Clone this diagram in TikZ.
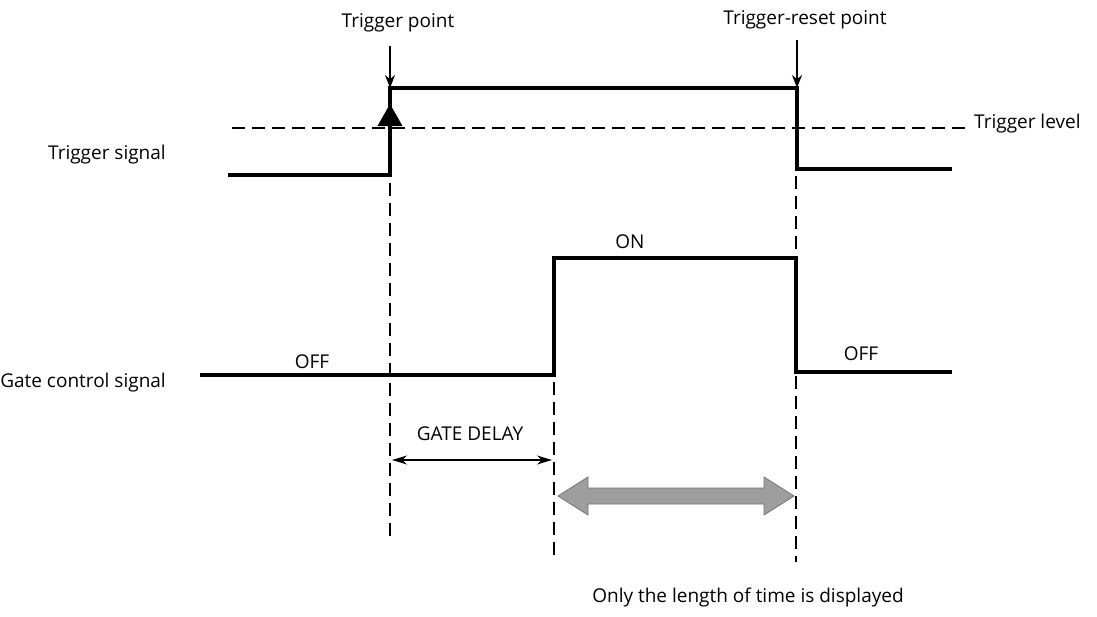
\documentclass[tikz,border=0pt]{standalone}
\usepackage{fontspec}
\setmainfont{Open Sans}
\usetikzlibrary{arrows.meta,calc}
\begin{document}
\begin{tikzpicture}[x=1pt,y=-1pt,
  sig/.style={line width=4pt, line join=miter},
  guide/.style={line width=2pt, dash pattern=on 13pt off 7pt},
  lbl/.style={font=\fontsize{19}{22}\selectfont, inner sep=1pt},
  ptr/.style={line width=1.6pt, -{Stealth[length=13pt,width=10pt]}},
  dim/.style={line width=1.4pt, {Stealth[length=15pt,width=9pt]}-{Stealth[length=15pt,width=9pt]}},
  blockarrow/.style={draw=black!55, line width=0.8pt, fill=black!38, line join=miter}]
\useasboundingbox (0,0) rectangle (1097,616);
% coordinates
\coordinate (t0) at (228,175);
\coordinate (t1) at (390,175);
\coordinate (t2) at (390,88);
\coordinate (t3) at (797,88);
\coordinate (t4) at (797,169);
\coordinate (t5) at (952,169);
\coordinate (g0) at (200,375);
\coordinate (g1) at (554,375);
\coordinate (g2) at (554,258);
\coordinate (g3) at (796,258);
\coordinate (g4) at (796,372);
\coordinate (g5) at (952,372);
% signals
\draw[sig] (t0) -- (t1) -- (t2) -- (t3) -- (t4) -- (t5);
\draw[sig] (g0) -- (g1) -- (g2) -- (g3) -- (g4) -- (g5);
% trigger level
\coordinate (lv0) at (232,128);
\coordinate (lv1) at (966,128);
\draw[guide] (lv0) -- (lv1);
\node[lbl, anchor=west] (tlevel) at (973,124) {Trigger level};
% triangle marker
\coordinate (tri) at (390,104);
\fill (tri) -- ++(-12.5,22) -- ++(25,0) -- cycle;
% labels
\node[lbl] (tp) at (398,23) {Trigger point};
\node[lbl] (trp) at (805,20) {Trigger-reset point};
\node[lbl, anchor=east] (tsig) at (167,155) {Trigger signal};
\node[lbl, anchor=east] (gsig) at (167,383) {Gate control signal};
\node[lbl] (off1) at (312,362) {OFF};
\node[lbl] (on) at (630,242) {ON};
\node[lbl] (off2) at (861,354) {OFF};
% pointers
\coordinate (p1) at (390,46);
\coordinate (p2) at (797,40);
\draw[ptr] (p1) -- (t2);
\draw[ptr] (p2) -- (t3);
% dashed verticals
\coordinate (d1a) at (390,183);
\coordinate (d1b) at (390,540);
\coordinate (d2a) at (554,382);
\coordinate (d2b) at (554,562);
\coordinate (d3a) at (796,176);
\coordinate (d3b) at (796,562);
\draw[guide] (d1a) -- (d1b);
\draw[guide] (d2a) -- (d2b);
\draw[guide] (d3a) -- (d3b);
% gate delay
\coordinate (gd0) at (392,460);
\coordinate (gd1) at (552,460);
\draw[dim] (gd0) -- (gd1);
\node[lbl] (gdl) at (470,434) {GATE DELAY};
% gray double block arrow
\coordinate (la) at (558,496);
\coordinate (ra) at (794,496);
\draw[blockarrow] (la) -- ++(30,-19) -- ++(0,11) -- ($(ra)+(-30,-8)$) -- ++(0,-11)
  -- (ra) -- ++(-30,19) -- ++(0,-11) -- ($(la)+(30,8)$) -- ++(0,11) -- cycle;
\node[lbl] (note) at (748,598) {Only the length of time is displayed};
\end{tikzpicture}
\end{document}
